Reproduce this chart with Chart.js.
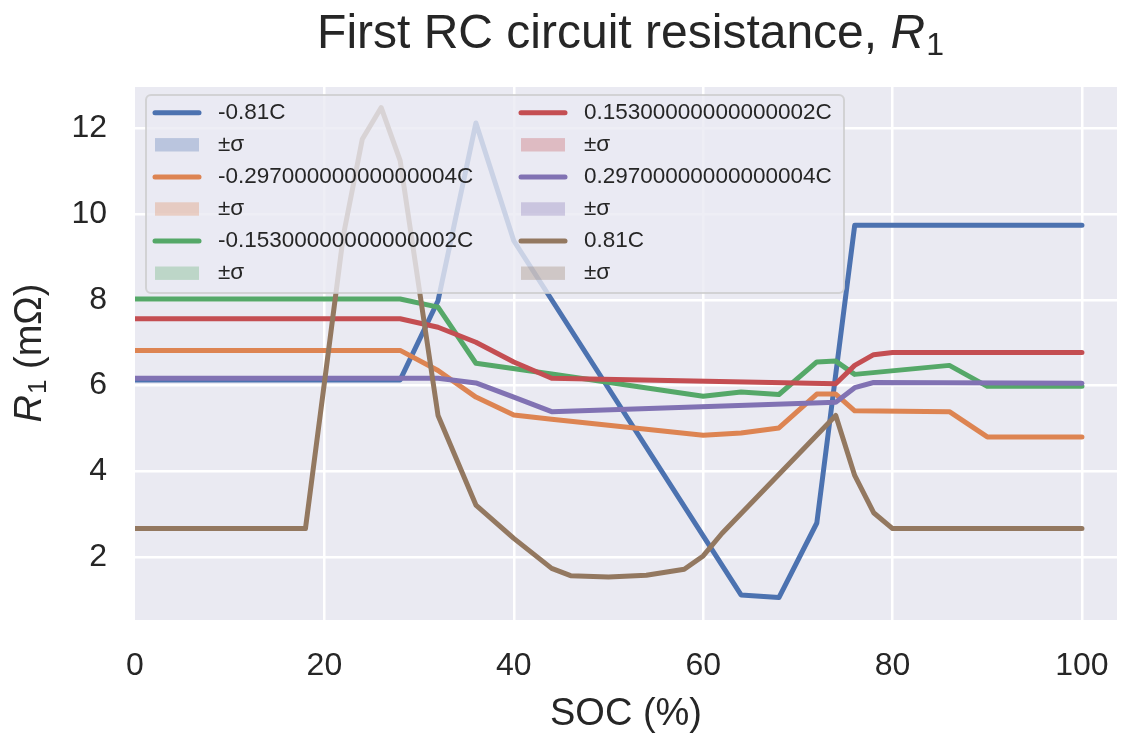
<!DOCTYPE html>
<html lang="en">
<head>
<meta charset="UTF-8"/>
<title>First RC circuit resistance</title>
<script src="https://cdn.jsdelivr.net/npm/chart.js@4.4.2/dist/chart.umd.min.js"></script>
<style>
html,body{margin:0;padding:0;background:#fff}
canvas{display:block}
</style>
</head>
<body>
<canvas id="chart" width="1127" height="737"></canvas>
<script>
// series labels (C-rates) and seaborn "deep" colours
const labels=['-0.81C','-0.29700000000000004C','-0.15300000000000002C','0.15300000000000002C','0.29700000000000004C','0.81C'];
const colors=['#4C72B0','#DD8452','#55A868','#C44E52','#8172B3','#937860'];

// SOC (%) and R1 (mOhm), one pair per C-rate
const socN081=[0,28,32,36,40,64,68,72,76,100];
const r1N081=[6.13,6.13,7.98,12.13,9.38,1.11,1.05,2.79,9.74,9.74];
const socN0297=[0,28,32,36,40,44,60,64,68,72,74,76,86,90,100];
const r1N0297=[6.82,6.82,6.35,5.73,5.31,5.21,4.84,4.89,5.01,5.80,5.80,5.41,5.39,4.80,4.80];
const socN0153=[0,28,32,36,44,60,64,68,72,74,76,86,90,100];
const r1N0153=[8.02,8.02,7.83,6.52,6.27,5.75,5.85,5.79,6.55,6.57,6.26,6.47,5.98,5.98];
const socP0153=[0,28,32,36,40,44,74,76,78,80,100];
const r1P0153=[7.56,7.56,7.36,7.01,6.55,6.17,6.04,6.47,6.72,6.77,6.77];
const socP0297=[0,32,36,40,44,74,76,78,100];
const r1P0297=[6.17,6.17,6.06,5.73,5.39,5.61,5.95,6.07,6.05];
const socP081=[0,18,20,22,24,26,28,32,36,40,44,46,50,54,58,60,62,74,76,78,80,100];
const r1P081=[2.66,2.66,6.06,9.5,11.75,12.49,11.25,5.30,3.21,2.43,1.73,1.56,1.53,1.57,1.71,2.02,2.55,5.30,3.90,3.03,2.66,2.66];

const xTicks=[0,20,40,60,80,100];
const yTicks=[2,4,6,8,10,12];

const socs=[socN081,socN0297,socN0153,socP0153,socP0297,socP081];
const r1s=[r1N081,r1N0297,r1N0153,r1P0153,r1P0297,r1P081];

const FONT='"Liberation Sans", Arial, sans-serif';
const TXT='#262626';

function alpha(hex,a){
  const n=parseInt(hex.slice(1),16);
  return `rgba(${n>>16},${(n>>8)&255},${n&255},${a})`;
}

const datasets=labels.map((lab,i)=>({
  label:lab,
  data:socs[i].map((x,j)=>({x,y:r1s[i][j]})),
  borderColor:colors[i],
  borderWidth:5,
  pointRadius:0,
  tension:0,
  fill:false,
  borderCapStyle:'round',
  borderJoinStyle:'round',
  order:labels.length-1-i
}));

// plot background
const bgPlugin={
  id:'bg',
  beforeDraw(chart){
    const {ctx,chartArea:a}=chart;
    ctx.save();
    ctx.fillStyle='#EAEAF2';
    ctx.fillRect(a.left,a.top,a.right-a.left,a.bottom-a.top);
    ctx.restore();
  }
};

// legend in two columns, drawn over the lines like matplotlib's (alpha .8)
const legendPlugin={
  id:'mplLegend',
  afterDatasetsDraw(chart){
    const ctx=chart.ctx;
    ctx.save();
    ctx.beginPath();
    ctx.roundRect(146,95,698,198,5);
    ctx.fillStyle='rgba(234,234,242,0.8)';
    ctx.fill();
    ctx.lineWidth=2;
    ctx.strokeStyle='rgba(204,204,204,0.8)';
    ctx.stroke();
    ctx.font='22.5px '+FONT;
    ctx.textBaseline='middle';
    ctx.textAlign='left';
    const colX=[153,519];
    labels.forEach((lab,i)=>{
      const hx=colX[Math.floor(i/3)];
      const k=(i%3)*2;
      const y1=112.7+k*32.1, y2=y1+32.1;
      ctx.strokeStyle=colors[i];
      ctx.lineWidth=5;
      ctx.lineCap='round';
      ctx.beginPath();ctx.moveTo(hx+2,y1);ctx.lineTo(hx+46,y1);ctx.stroke();
      ctx.fillStyle=alpha(colors[i],0.3);
      ctx.fillRect(hx+2,y2-6.7,44,13.4);
      ctx.fillStyle=TXT;
      ctx.fillText(lab,hx+65,y1);
      ctx.fillText('±σ',hx+65,y2);
    });
    ctx.restore();
  }
};

// title and y label with italic R and subscript 1
const textPlugin={
  id:'mathText',
  afterDraw(chart){
    const ctx=chart.ctx;
    ctx.save();
    ctx.fillStyle=TXT;
    ctx.textBaseline='alphabetic';
    ctx.textAlign='left';
    // title
    const t1='First RC circuit resistance, ';
    ctx.font='48px '+FONT; const w1=ctx.measureText(t1).width;
    ctx.font='italic 48px '+FONT; const wR=ctx.measureText('R').width;
    ctx.font='32px '+FONT; const wS=ctx.measureText('1').width;
    let x=630-(w1+wR+wS)/2;
    ctx.font='48px '+FONT; ctx.fillText(t1,x,48); x+=w1;
    ctx.font='italic 48px '+FONT; ctx.fillText('R',x,48); x+=wR+1;
    ctx.font='32px '+FONT; ctx.fillText('1',x,55);
    // y label
    ctx.translate(29,353.5);
    ctx.rotate(-Math.PI/2);
    ctx.font='italic 38px '+FONT; const yR=ctx.measureText('R').width;
    ctx.font='26px '+FONT; const y1=ctx.measureText('1').width;
    ctx.font='38px '+FONT; const yT=ctx.measureText(' (mΩ)').width;
    let lx=-(yR+y1+yT)/2;
    const b=12;
    ctx.font='italic 38px '+FONT; ctx.fillText('R',lx,b); lx+=yR+1;
    ctx.font='26px '+FONT; ctx.fillText('1',lx,b+5); lx+=y1;
    ctx.font='38px '+FONT; ctx.fillText(' (mΩ)',lx,b);
    ctx.restore();
  }
};

new Chart(document.getElementById('chart').getContext('2d'),{
  type:'line',
  data:{datasets},
  plugins:[bgPlugin,legendPlugin,textPlugin],
  options:{
    responsive:false,
    animation:false,
    layout:{padding:{top:87,left:0,right:10,bottom:0}},
    plugins:{legend:{display:false},tooltip:{enabled:false},title:{display:false}},
    scales:{
      x:{
        type:'linear',min:0,max:103.7,
        afterBuildTicks:s=>{s.ticks=xTicks.map(v=>({value:v}));},
        afterFit:s=>{s.height=117;s.paddingLeft=0;s.paddingRight=0;},
        grid:{color:c=>c.tick&&c.tick.value===0?'rgba(0,0,0,0)':'#ffffff',lineWidth:2.5,drawTicks:false},
        border:{display:false},
        ticks:{padding:27,font:{family:FONT,size:32},color:TXT,maxRotation:0},
        title:{display:true,text:'SOC (%)',font:{family:FONT,size:38},color:TXT,padding:{top:0,bottom:0}}
      },
      y:{
        type:'linear',min:0.525,max:12.97,
        afterBuildTicks:s=>{s.ticks=yTicks.map(v=>({value:v}));},
        afterFit:s=>{s.width=135;s.paddingTop=0;s.paddingBottom=0;},
        grid:{color:'#ffffff',lineWidth:2.5,drawTicks:false},
        border:{display:false},
        ticks:{padding:28,font:{family:FONT,size:32},color:TXT}
      }
    }
  }
});
</script>
</body>
</html>
